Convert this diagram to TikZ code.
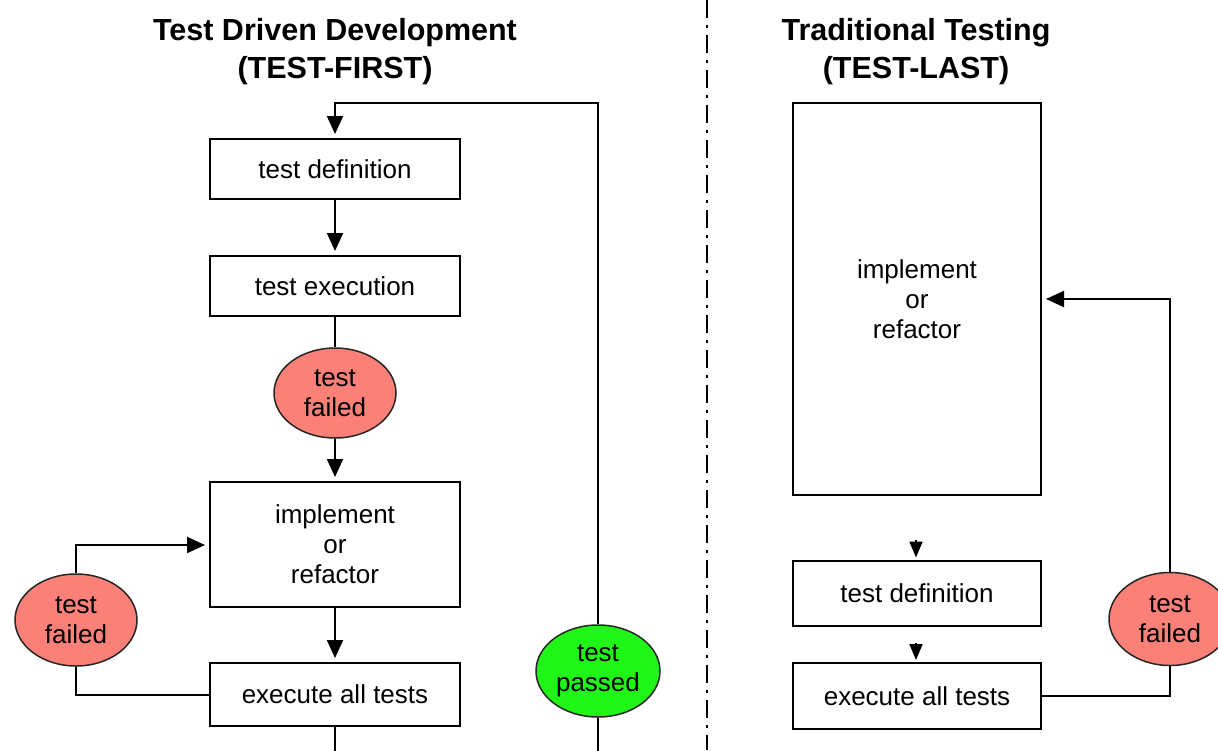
\documentclass[tikz,border=0pt]{standalone}
\usepackage{fontspec}
\setmainfont{Liberation Sans}
\usetikzlibrary{arrows.meta,shapes.geometric}
\definecolor{failred}{RGB}{250,128,120}
\definecolor{passgreen}{RGB}{32,245,24}
\begin{document}
\begin{tikzpicture}[x=1pt,y=-1pt,
  every node/.style={font=\fontsize{26}{30}\selectfont},
  heading/.style={font=\bfseries\fontsize{30.5}{38}\selectfont, anchor=base, inner sep=0pt},
  stepbox/.style={draw, line width=2pt, inner sep=0pt, align=center},
  verdict/.style={ellipse, draw=black!85, line width=1.5pt, inner sep=0pt, align=center},
  flow/.style={line width=2pt},
  arr/.style={flow, -{Triangle[length=18pt,width=16pt]}, shorten >=4pt},
  tinyarr/.style={flow, -{Triangle[length=16pt,width=13pt]}, shorten >=2pt},
  divider/.style={line width=2pt, dash pattern=on 18pt off 7pt on 3pt off 7pt}
]
\useasboundingbox (0,0) rectangle (1218,750);

% ---- headings ----
\node[heading] (tddA) at (335,40) {Test Driven Development};
\node[heading] (tddB) at (335,78) {(TEST-FIRST)};
\node[heading] (ttA) at (916,40) {Traditional Testing};
\node[heading] (ttB) at (916,78) {(TEST-LAST)};

% ---- separator ----
\coordinate (sepTop) at (707,0);
\coordinate (sepBot) at (707,750);
\draw[divider] (sepTop) -- (sepBot);

% ---- test-first cycle ----
\node[stepbox, minimum width=250pt, minimum height=60pt] (tdef) at (335,169) {test definition};
\node[stepbox, minimum width=250pt, minimum height=60pt] (texec) at (335,286) {test execution};
\node[verdict, fill=failred, minimum width=122pt, minimum height=90pt] (fail1) at (335,393) {test\\failed};
\node[stepbox, minimum width=250pt, minimum height=125pt] (impl) at (335,544.5) {implement\\or\\refactor};
\node[stepbox, minimum width=250pt, minimum height=63pt] (exall) at (335,694.5) {execute all tests};
\node[verdict, fill=failred, minimum width=122pt, minimum height=92pt] (fail2) at (76,620) {test\\failed};
\node[verdict, fill=passgreen, minimum width=124pt, minimum height=92pt] (pass) at (598,671) {test\\passed};

\coordinate (loopTop) at (598,103);
\coordinate (bottomEdge) at (0,752);

\draw[arr] (tdef) -- (tdef.south |- texec.north);
\draw[flow] (texec.south) -- (fail1.north);
\draw[arr] (fail1.south) -- (impl.north);
\draw[arr] (impl.south) -- (exall.north);
\draw[flow] (exall.south) -- (exall.south |- bottomEdge);
\draw[flow] (exall.west) -| (fail2.south);
\draw[arr] (fail2.north) |- (impl.west |- 0,545);
\draw[flow] (pass.south) -- (pass.south |- bottomEdge);
\draw[arr] (pass.north) -- (loopTop) -| (tdef.north);

% ---- test-last sequence ----
\node[stepbox, minimum width=248pt, minimum height=392pt] (bigimpl) at (917,299) {implement\\or\\refactor};
\node[stepbox, minimum width=248pt, minimum height=65pt] (tdef2) at (917,593) {test definition};
\node[stepbox, minimum width=248pt, minimum height=66pt] (exall2) at (917,696) {execute all tests};
\node[verdict, fill=failred, minimum width=122pt, minimum height=93pt] (fail3) at (1170,619) {test\\failed};

\coordinate (stubA) at (916,540);
\coordinate (stubB) at (916,643);
\draw[tinyarr] (stubA) -- (stubA |- tdef2.north);
\draw[tinyarr] (stubB) -- (stubB |- exall2.north);
\draw[flow] (exall2.east) -| (fail3.south);
\draw[arr] (fail3.north) |- (bigimpl.east);
\end{tikzpicture}
\end{document}
